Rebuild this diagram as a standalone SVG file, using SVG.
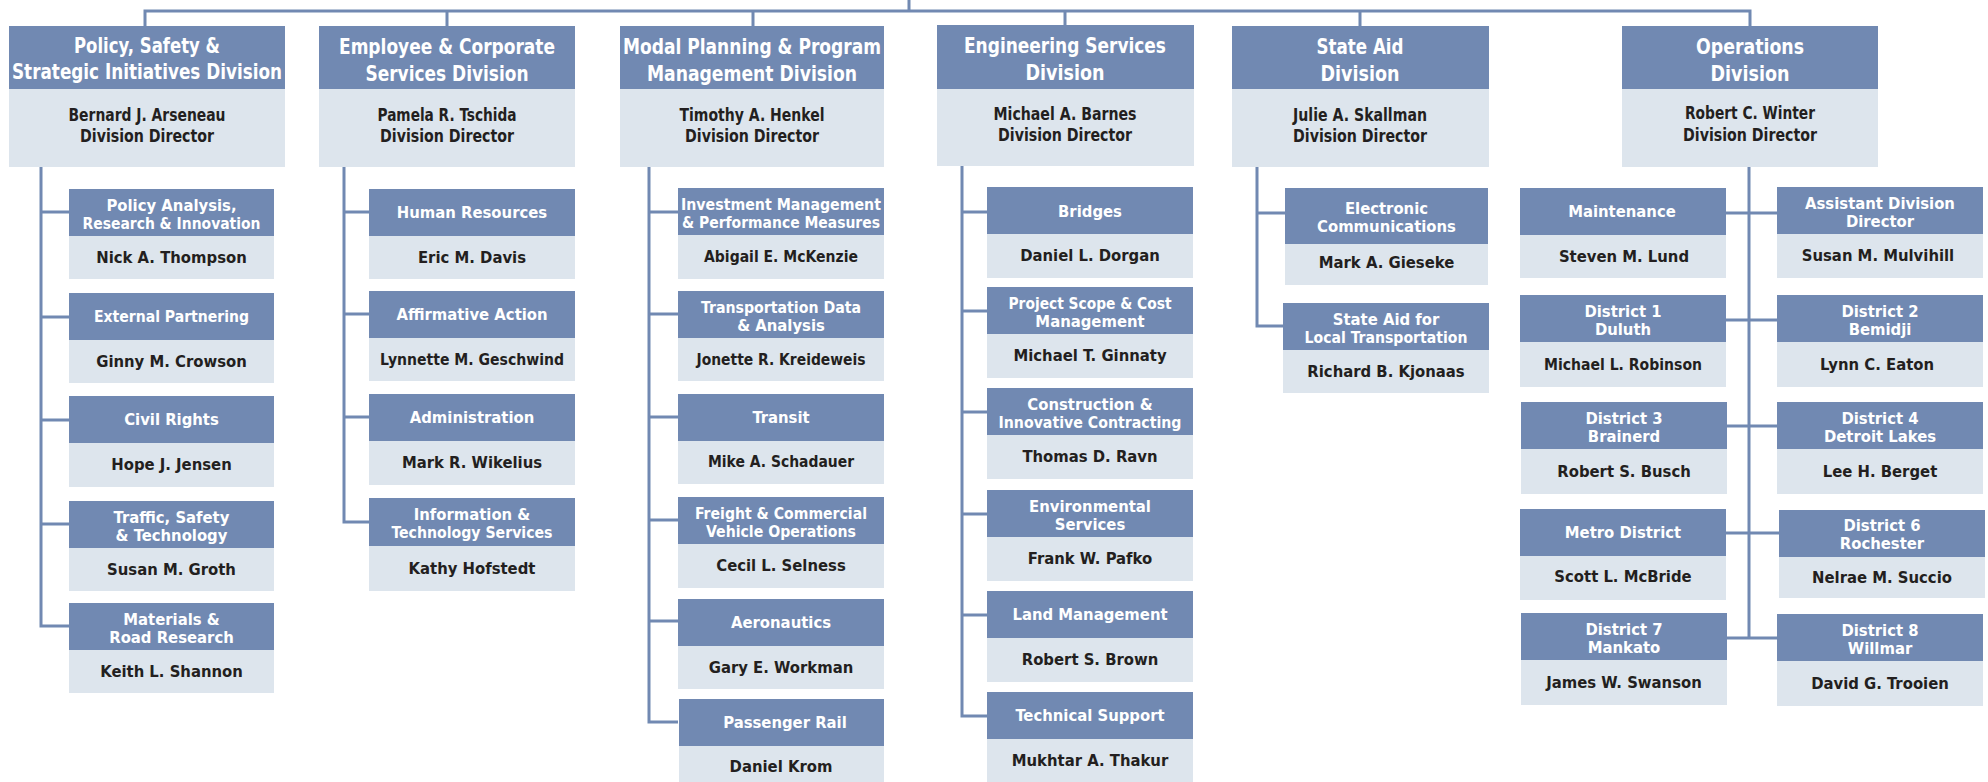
<svg xmlns="http://www.w3.org/2000/svg" width="1988" height="782" viewBox="0 0 1988 782">
<style>
.hd{fill:#7189b2}
.bd{fill:#dde5ed}
.ln{fill:none;stroke:#7189b2;stroke-width:3}
text{font-family:"DejaVu Sans Condensed","Liberation Sans",sans-serif;font-weight:bold;text-anchor:middle}
.dh{fill:#ffffff;font-size:21px}
.db{fill:#231f20;font-size:17px}
.sh{fill:#ffffff;font-size:16.5px}
.sb{fill:#231f20;font-size:16.5px}
</style>
<rect width="1988" height="782" fill="#ffffff"/>
<g id="connectors" class="ln">
<path d="M909,0 V11 M145,26 V11 H1750 V26 M447,11 V26 M753,11 V26 M1065,11 V26 M1360,11 V26"/>
<path d="M41,167 V626 H69 M41,212 H69 M41,317 H69 M41,420 H69 M41,524 H69"/>
<path d="M344,167 V522 H369 M344,212 H369 M344,314 H369 M344,417 H369"/>
<path d="M649,167 V722 H678 M649,212 H678 M649,314 H678 M649,417 H678 M649,520 H678 M649,621 H678"/>
<path d="M962,166 V716 H987 M962,212 H987 M962,311 H987 M962,412 H987 M962,514 H987 M962,615 H987"/>
<path d="M1257,167 V326 H1285 M1257,213 H1285"/>
<path d="M1749,167 V638 M1726,213 H1777 M1726,320 H1777 M1726,426 H1777 M1726,533 H1779 M1726,638 H1777"/>
</g>
<g id="div-policy"><rect class="hd" x="9" y="26" width="276" height="63"/><rect class="bd" x="9" y="89" width="276" height="78"/>
<text class="dh" x="147" y="53" textLength="146" lengthAdjust="spacingAndGlyphs">Policy, Safety &amp;</text><text class="dh" x="147" y="79" textLength="270" lengthAdjust="spacingAndGlyphs">Strategic Initiatives Division</text>
<text class="db" x="147" y="121" textLength="157" lengthAdjust="spacingAndGlyphs">Bernard J. Arseneau</text><text class="db" x="147" y="142" textLength="134" lengthAdjust="spacingAndGlyphs">Division Director</text></g>
<g id="div-employee"><rect class="hd" x="319" y="26" width="256" height="63"/><rect class="bd" x="319" y="89" width="256" height="78"/>
<text class="dh" x="447" y="54" textLength="216" lengthAdjust="spacingAndGlyphs">Employee &amp; Corporate</text><text class="dh" x="447" y="81" textLength="163" lengthAdjust="spacingAndGlyphs">Services Division</text>
<text class="db" x="447" y="121" textLength="139" lengthAdjust="spacingAndGlyphs">Pamela R. Tschida</text><text class="db" x="447" y="142" textLength="134" lengthAdjust="spacingAndGlyphs">Division Director</text></g>
<g id="div-modal"><rect class="hd" x="620" y="26" width="264" height="63"/><rect class="bd" x="620" y="89" width="264" height="78"/>
<text class="dh" x="752" y="54" textLength="258" lengthAdjust="spacingAndGlyphs">Modal Planning &amp; Program</text><text class="dh" x="752" y="81" textLength="210" lengthAdjust="spacingAndGlyphs">Management Division</text>
<text class="db" x="752" y="121" textLength="145" lengthAdjust="spacingAndGlyphs">Timothy A. Henkel</text><text class="db" x="752" y="142" textLength="134" lengthAdjust="spacingAndGlyphs">Division Director</text></g>
<g id="div-engineering"><rect class="hd" x="937" y="25" width="257" height="64"/><rect class="bd" x="937" y="89" width="257" height="77"/>
<text class="dh" x="1065" y="53" textLength="202" lengthAdjust="spacingAndGlyphs">Engineering Services</text><text class="dh" x="1065" y="80" textLength="79" lengthAdjust="spacingAndGlyphs">Division</text>
<text class="db" x="1065" y="120" textLength="143" lengthAdjust="spacingAndGlyphs">Michael A.  Barnes</text><text class="db" x="1065" y="141" textLength="134" lengthAdjust="spacingAndGlyphs">Division Director</text></g>
<g id="div-stateaid"><rect class="hd" x="1232" y="26" width="257" height="63"/><rect class="bd" x="1232" y="89" width="257" height="78"/>
<text class="dh" x="1360" y="54" textLength="87" lengthAdjust="spacingAndGlyphs">State Aid</text><text class="dh" x="1360" y="81" textLength="79" lengthAdjust="spacingAndGlyphs">Division</text>
<text class="db" x="1360" y="121" textLength="134" lengthAdjust="spacingAndGlyphs">Julie A. Skallman</text><text class="db" x="1360" y="142" textLength="134" lengthAdjust="spacingAndGlyphs">Division Director</text></g>
<g id="div-operations"><rect class="hd" x="1622" y="26" width="256" height="63"/><rect class="bd" x="1622" y="89" width="256" height="78"/>
<text class="dh" x="1750" y="54" textLength="108" lengthAdjust="spacingAndGlyphs">Operations</text><text class="dh" x="1750" y="81" textLength="79" lengthAdjust="spacingAndGlyphs">Division</text>
<text class="db" x="1750" y="119" textLength="130" lengthAdjust="spacingAndGlyphs">Robert C. Winter</text><text class="db" x="1750" y="141" textLength="134" lengthAdjust="spacingAndGlyphs">Division Director</text></g>

<g id="policy-analysis"><rect class="hd" x="69" y="189" width="205" height="47"/><rect class="bd" x="69" y="236" width="205" height="43"/>
<text class="sh" x="171.5" y="211">Policy Analysis,</text><text class="sh" x="171.5" y="229" textLength="178" lengthAdjust="spacingAndGlyphs">Research &amp; Innovation</text><text class="sb" x="171.5" y="263">Nick A. Thompson</text></g>
<g id="external-partnering"><rect class="hd" x="69" y="293" width="205" height="47"/><rect class="bd" x="69" y="340" width="205" height="43"/>
<text class="sh" x="171.5" y="322" textLength="155" lengthAdjust="spacingAndGlyphs">External Partnering</text><text class="sb" x="171.5" y="367">Ginny M. Crowson</text></g>
<g id="civil-rights"><rect class="hd" x="69" y="396" width="205" height="47"/><rect class="bd" x="69" y="443" width="205" height="44"/>
<text class="sh" x="171.5" y="425">Civil Rights</text><text class="sb" x="171.5" y="470">Hope J. Jensen</text></g>
<g id="traffic-safety"><rect class="hd" x="69" y="501" width="205" height="47"/><rect class="bd" x="69" y="548" width="205" height="43"/>
<text class="sh" x="171.5" y="523">Traffic, Safety</text><text class="sh" x="171.5" y="541">&amp; Technology</text><text class="sb" x="171.5" y="575">Susan M. Groth</text></g>
<g id="materials"><rect class="hd" x="69" y="603" width="205" height="47"/><rect class="bd" x="69" y="650" width="205" height="43"/>
<text class="sh" x="171.5" y="625">Materials &amp;</text><text class="sh" x="171.5" y="643">Road Research</text><text class="sb" x="171.5" y="677">Keith L. Shannon</text></g>

<g id="human-resources"><rect class="hd" x="369" y="189" width="206" height="47"/><rect class="bd" x="369" y="236" width="206" height="43"/>
<text class="sh" x="472" y="218">Human Resources</text><text class="sb" x="472" y="263">Eric M. Davis</text></g>
<g id="affirmative-action"><rect class="hd" x="369" y="291" width="206" height="47"/><rect class="bd" x="369" y="338" width="206" height="43"/>
<text class="sh" x="472" y="320">Affirmative Action</text><text class="sb" x="472" y="365" textLength="184" lengthAdjust="spacingAndGlyphs">Lynnette M. Geschwind</text></g>
<g id="administration"><rect class="hd" x="369" y="394" width="206" height="47"/><rect class="bd" x="369" y="441" width="206" height="44"/>
<text class="sh" x="472" y="423">Administration</text><text class="sb" x="472" y="468">Mark R. Wikelius</text></g>
<g id="info-tech"><rect class="hd" x="369" y="498" width="206" height="48"/><rect class="bd" x="369" y="546" width="206" height="45"/>
<text class="sh" x="472" y="520">Information &amp;</text><text class="sh" x="472" y="538" textLength="161" lengthAdjust="spacingAndGlyphs">Technology Services</text><text class="sb" x="472" y="574">Kathy Hofstedt</text></g>

<g id="investment-management"><rect class="hd" x="678" y="188" width="206" height="47"/><rect class="bd" x="678" y="235" width="206" height="44"/>
<text class="sh" x="781" y="210" textLength="200" lengthAdjust="spacingAndGlyphs">Investment Management</text><text class="sh" x="781" y="228" textLength="198" lengthAdjust="spacingAndGlyphs">&amp; Performance Measures</text><text class="sb" x="781" y="262" textLength="154" lengthAdjust="spacingAndGlyphs">Abigail E. McKenzie</text></g>
<g id="transportation-data"><rect class="hd" x="678" y="291" width="206" height="47"/><rect class="bd" x="678" y="338" width="206" height="43"/>
<text class="sh" x="781" y="313" textLength="160" lengthAdjust="spacingAndGlyphs">Transportation Data</text><text class="sh" x="781" y="331">&amp; Analysis</text><text class="sb" x="781" y="365" textLength="169" lengthAdjust="spacingAndGlyphs">Jonette R. Kreideweis</text></g>
<g id="transit"><rect class="hd" x="678" y="394" width="206" height="47"/><rect class="bd" x="678" y="441" width="206" height="43"/>
<text class="sh" x="781" y="423">Transit</text><text class="sb" x="781" y="467" textLength="146" lengthAdjust="spacingAndGlyphs">Mike A. Schadauer</text></g>
<g id="freight"><rect class="hd" x="678" y="497" width="206" height="47"/><rect class="bd" x="678" y="544" width="206" height="44"/>
<text class="sh" x="781" y="519" textLength="172" lengthAdjust="spacingAndGlyphs">Freight &amp; Commercial</text><text class="sh" x="781" y="537" textLength="150" lengthAdjust="spacingAndGlyphs">Vehicle Operations</text><text class="sb" x="781" y="571">Cecil L. Selness</text></g>
<g id="aeronautics"><rect class="hd" x="678" y="599" width="206" height="47"/><rect class="bd" x="678" y="646" width="206" height="43"/>
<text class="sh" x="781" y="628">Aeronautics</text><text class="sb" x="781" y="673">Gary E. Workman</text></g>
<g id="passenger-rail"><rect class="hd" x="679" y="699" width="205" height="47"/><rect class="bd" x="679" y="746" width="205" height="36"/>
<text class="sh" x="785" y="728">Passenger Rail</text><text class="sb" x="781" y="772">Daniel Krom</text></g>

<g id="bridges"><rect class="hd" x="987" y="187" width="206" height="47"/><rect class="bd" x="987" y="234" width="206" height="44"/>
<text class="sh" x="1090" y="217">Bridges</text><text class="sb" x="1090" y="261">Daniel L. Dorgan</text></g>
<g id="project-scope"><rect class="hd" x="987" y="287" width="206" height="47"/><rect class="bd" x="987" y="334" width="206" height="44"/>
<text class="sh" x="1090" y="309" textLength="163" lengthAdjust="spacingAndGlyphs">Project Scope &amp; Cost</text><text class="sh" x="1090" y="327">Management</text><text class="sb" x="1090" y="361">Michael T. Ginnaty</text></g>
<g id="construction"><rect class="hd" x="987" y="388" width="206" height="47"/><rect class="bd" x="987" y="435" width="206" height="44"/>
<text class="sh" x="1090" y="410">Construction &amp;</text><text class="sh" x="1090" y="428" textLength="183" lengthAdjust="spacingAndGlyphs">Innovative Contracting</text><text class="sb" x="1090" y="462">Thomas D. Ravn</text></g>
<g id="environmental"><rect class="hd" x="987" y="490" width="206" height="47"/><rect class="bd" x="987" y="537" width="206" height="44"/>
<text class="sh" x="1090" y="512">Environmental</text><text class="sh" x="1090" y="530">Services</text><text class="sb" x="1090" y="564">Frank W. Pafko</text></g>
<g id="land-management"><rect class="hd" x="987" y="591" width="206" height="47"/><rect class="bd" x="987" y="638" width="206" height="44"/>
<text class="sh" x="1090" y="620">Land Management</text><text class="sb" x="1090" y="665">Robert S. Brown</text></g>
<g id="technical-support"><rect class="hd" x="987" y="692" width="206" height="47"/><rect class="bd" x="987" y="739" width="206" height="43"/>
<text class="sh" x="1090" y="721">Technical Support</text><text class="sb" x="1090" y="766">Mukhtar A. Thakur</text></g>

<g id="electronic-communications"><rect class="hd" x="1285" y="188" width="203" height="56"/><rect class="bd" x="1285" y="244" width="203" height="41"/>
<text class="sh" x="1386.5" y="214">Electronic</text><text class="sh" x="1386.5" y="232">Communications</text><text class="sb" x="1386.5" y="268">Mark A. Gieseke</text></g>
<g id="state-aid-local"><rect class="hd" x="1283" y="303" width="206" height="47"/><rect class="bd" x="1283" y="350" width="206" height="43"/>
<text class="sh" x="1386" y="325">State Aid for</text><text class="sh" x="1386" y="343" textLength="163" lengthAdjust="spacingAndGlyphs">Local Transportation</text><text class="sb" x="1386" y="377">Richard B. Kjonaas</text></g>

<g id="maintenance"><rect class="hd" x="1520" y="188" width="206" height="47"/><rect class="bd" x="1520" y="235" width="206" height="43"/>
<text class="sh" x="1622" y="217">Maintenance</text><text class="sb" x="1624" y="262">Steven M. Lund</text></g>
<g id="assistant-director"><rect class="hd" x="1777" y="187" width="206" height="47"/><rect class="bd" x="1777" y="234" width="206" height="44"/>
<text class="sh" x="1880" y="209">Assistant Division</text><text class="sh" x="1880" y="227">Director</text><text class="sb" x="1878" y="261">Susan M. Mulvihill</text></g>
<g id="district-1"><rect class="hd" x="1520" y="295" width="206" height="47"/><rect class="bd" x="1520" y="342" width="206" height="45"/>
<text class="sh" x="1623" y="317">District 1</text><text class="sh" x="1623" y="335">Duluth</text><text class="sb" x="1623" y="370" textLength="158" lengthAdjust="spacingAndGlyphs">Michael L. Robinson</text></g>
<g id="district-2"><rect class="hd" x="1777" y="295" width="206" height="47"/><rect class="bd" x="1777" y="342" width="206" height="45"/>
<text class="sh" x="1880" y="317">District 2</text><text class="sh" x="1880" y="335">Bemidji</text><text class="sb" x="1877" y="370">Lynn C. Eaton</text></g>
<g id="district-3"><rect class="hd" x="1521" y="402" width="206" height="47"/><rect class="bd" x="1521" y="449" width="206" height="45"/>
<text class="sh" x="1624" y="424">District 3</text><text class="sh" x="1624" y="442">Brainerd</text><text class="sb" x="1624" y="477">Robert S. Busch</text></g>
<g id="district-4"><rect class="hd" x="1777" y="402" width="206" height="47"/><rect class="bd" x="1777" y="449" width="206" height="45"/>
<text class="sh" x="1880" y="424">District 4</text><text class="sh" x="1880" y="442">Detroit Lakes</text><text class="sb" x="1880" y="477">Lee H. Berget</text></g>
<g id="metro-district"><rect class="hd" x="1520" y="509" width="206" height="47"/><rect class="bd" x="1520" y="556" width="206" height="44"/>
<text class="sh" x="1623" y="538">Metro District</text><text class="sb" x="1623" y="582">Scott L. McBride</text></g>
<g id="district-6"><rect class="hd" x="1779" y="510" width="206" height="47"/><rect class="bd" x="1779" y="557" width="206" height="41"/>
<text class="sh" x="1882" y="531">District 6</text><text class="sh" x="1882" y="549">Rochester</text><text class="sb" x="1882" y="583">Nelrae M. Succio</text></g>
<g id="district-7"><rect class="hd" x="1521" y="613" width="206" height="47"/><rect class="bd" x="1521" y="660" width="206" height="45"/>
<text class="sh" x="1624" y="635">District 7</text><text class="sh" x="1624" y="653">Mankato</text><text class="sb" x="1624" y="688">James W. Swanson</text></g>
<g id="district-8"><rect class="hd" x="1777" y="614" width="206" height="47"/><rect class="bd" x="1777" y="661" width="206" height="45"/>
<text class="sh" x="1880" y="636">District 8</text><text class="sh" x="1880" y="654">Willmar</text><text class="sb" x="1880" y="689">David G. Trooien</text></g>
</svg>
